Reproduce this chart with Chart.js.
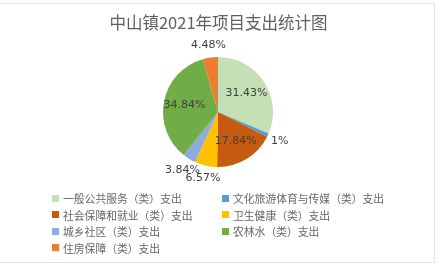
<!DOCTYPE html>
<html>
<head>
<meta charset="utf-8">
<script src="https://cdn.jsdelivr.net/npm/chart.js@4/dist/chart.umd.min.js"></script>
<style>
  html, body { margin:0; padding:0; background:#fff; }
  body { width:441px; height:268px; position:relative; overflow:hidden; font-family:"Noto Sans CJK SC","DejaVu Sans",sans-serif; }
  #frame { position:absolute; left:-1px; top:3px; width:436px; height:260px; border:1px solid #e3e3e3; box-sizing:border-box; }
  #title { position:absolute; left:0; width:437px; top:12px; text-align:center; font-size:16.5px; color:#5f5f5f; line-height:20px; }
  #c { position:absolute; left:0; top:0; }
  #legend { position:absolute; left:52px; top:190px; display:grid; grid-template-columns:170px 190px; row-gap:0px; font-size:10.8px; color:#666; }
  #legend div { height:16.5px; line-height:16.5px; white-space:nowrap; display:flex; align-items:center; }
  #legend span.sw { display:inline-block; width:7px; height:7px; margin-right:4px; }
</style>
</head>
<body>
<div id="frame"></div>
<canvas id="c" width="441" height="268"></canvas>
<div id="title">中山镇2021年项目支出统计图</div>
<div id="legend"></div>
<script>
const categories = ["一般公共服务（类）支出","文化旅游体育与传媒（类）支出","社会保障和就业（类）支出","卫生健康（类）支出","城乡社区（类）支出","农林水（类）支出","住房保障（类）支出"];
const percentValues = [31.43, 1, 17.84, 6.57, 3.84, 34.84, 4.48];
const percentLabels = ["31.43%","1%","17.84%","6.57%","3.84%","34.84%","4.48%"];
const outsideLabel = [false, true, false, true, true, false, true];
const sliceColors = ["#C5E0B4","#5B9BD5","#C55A11","#FFC000","#8FAADC","#70AD47","#ED7D31"];

const legendEl = document.getElementById('legend');
categories.forEach((c,i)=>{
  const d = document.createElement('div');
  d.innerHTML = '<span class="sw" style="background:'+sliceColors[i]+'"></span>' + c;
  legendEl.appendChild(d);
});

const labelPlugin = {
  id:'sliceLabels',
  afterDatasetsDraw(chart){
    const ctx = chart.ctx;
    const meta = chart.getDatasetMeta(0);
    ctx.save();
    ctx.font = '11px "DejaVu Sans", sans-serif';
    ctx.fillStyle = '#404040';
    ctx.textAlign = 'center';
    ctx.textBaseline = 'middle';
    meta.data.forEach((arc,i)=>{
      const p = arc.getProps(['x','y','startAngle','endAngle','outerRadius'], true);
      const mid = (p.startAngle + p.endAngle)/2;
      const r = outsideLabel[i] ? p.outerRadius + 13 : p.outerRadius*0.62;
      ctx.fillText(percentLabels[i], p.x + Math.cos(mid)*r, p.y + Math.sin(mid)*r);
    });
    ctx.restore();
  }
};

new Chart(document.getElementById('c'), {
  type:'pie',
  data:{ labels:categories, datasets:[{ data:percentValues, backgroundColor:sliceColors, borderWidth:0 }] },
  options:{
    responsive:false, animation:false,
    layout:{ padding:{ left:163, right:168, top:57, bottom:101 } },
    plugins:{ legend:{display:false}, tooltip:{enabled:false}, title:{display:false} }
  },
  plugins:[labelPlugin]
});
</script>
</body>
</html>
